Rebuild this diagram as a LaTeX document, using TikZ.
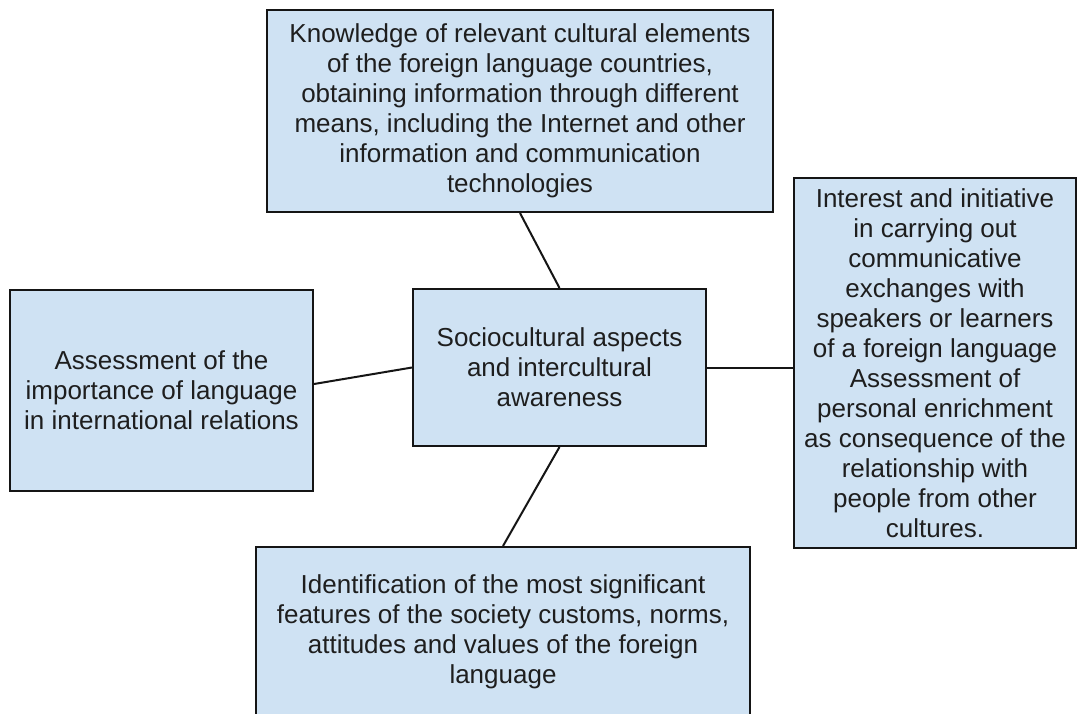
\documentclass[tikz,border=0pt]{standalone}
\usepackage{fontspec}
\setmainfont{Liberation Sans}
\definecolor{boxfill}{HTML}{CFE2F3}
\definecolor{boxline}{HTML}{151515}
\definecolor{txt}{HTML}{1E1E1E}
\begin{document}
\begin{tikzpicture}[x=1pt,y=-1pt,
  box/.style={draw=boxline, fill=boxfill, line width=2pt, inner sep=0pt,
    align=center, text=txt, font=\fontsize{26}{30}\selectfont},
  link/.style={draw=boxline, line width=2pt}]
\useasboundingbox (0,0) rectangle (1079,713);
\fill[white] (0,0) rectangle (1079,713);
\node[box, minimum width=506pt, minimum height=202pt] (top) at (520,111)
  {Knowledge of relevant cultural elements\\of the foreign language countries,\\obtaining information through different\\means, including the Internet and other\\information and communication\\technologies};
\node[box, minimum width=293pt, minimum height=157pt] (center) at (559.5,367.5)
  {Sociocultural aspects\\and intercultural\\awareness};
\node[box, minimum width=303pt, minimum height=201pt] (left) at (161.5,390.5)
  {Assessment of the\\importance of language\\in international relations};
\node[box, minimum width=282pt, minimum height=370pt] (right) at (935,363)
  {Interest and initiative\\in carrying out\\communicative\\exchanges with\\speakers or learners\\of a foreign language\\Assessment of\\personal enrichment\\as consequence of the\\relationship with\\people from other\\cultures.};
\node[box, minimum width=494pt, minimum height=170pt] (bottom) at (503,632)
  {Identification of the most significant\\features of the society customs, norms,\\attitudes and values of the foreign\\language};
\draw[link] (top.south) -- (center.north);
\draw[link] ([yshift=6.5pt]left.east) -- (center.west);
\draw[link] (center.east) -- (center.east -| right.west);
\draw[link] (center.south) -- (bottom.north);
\end{tikzpicture}
\end{document}
